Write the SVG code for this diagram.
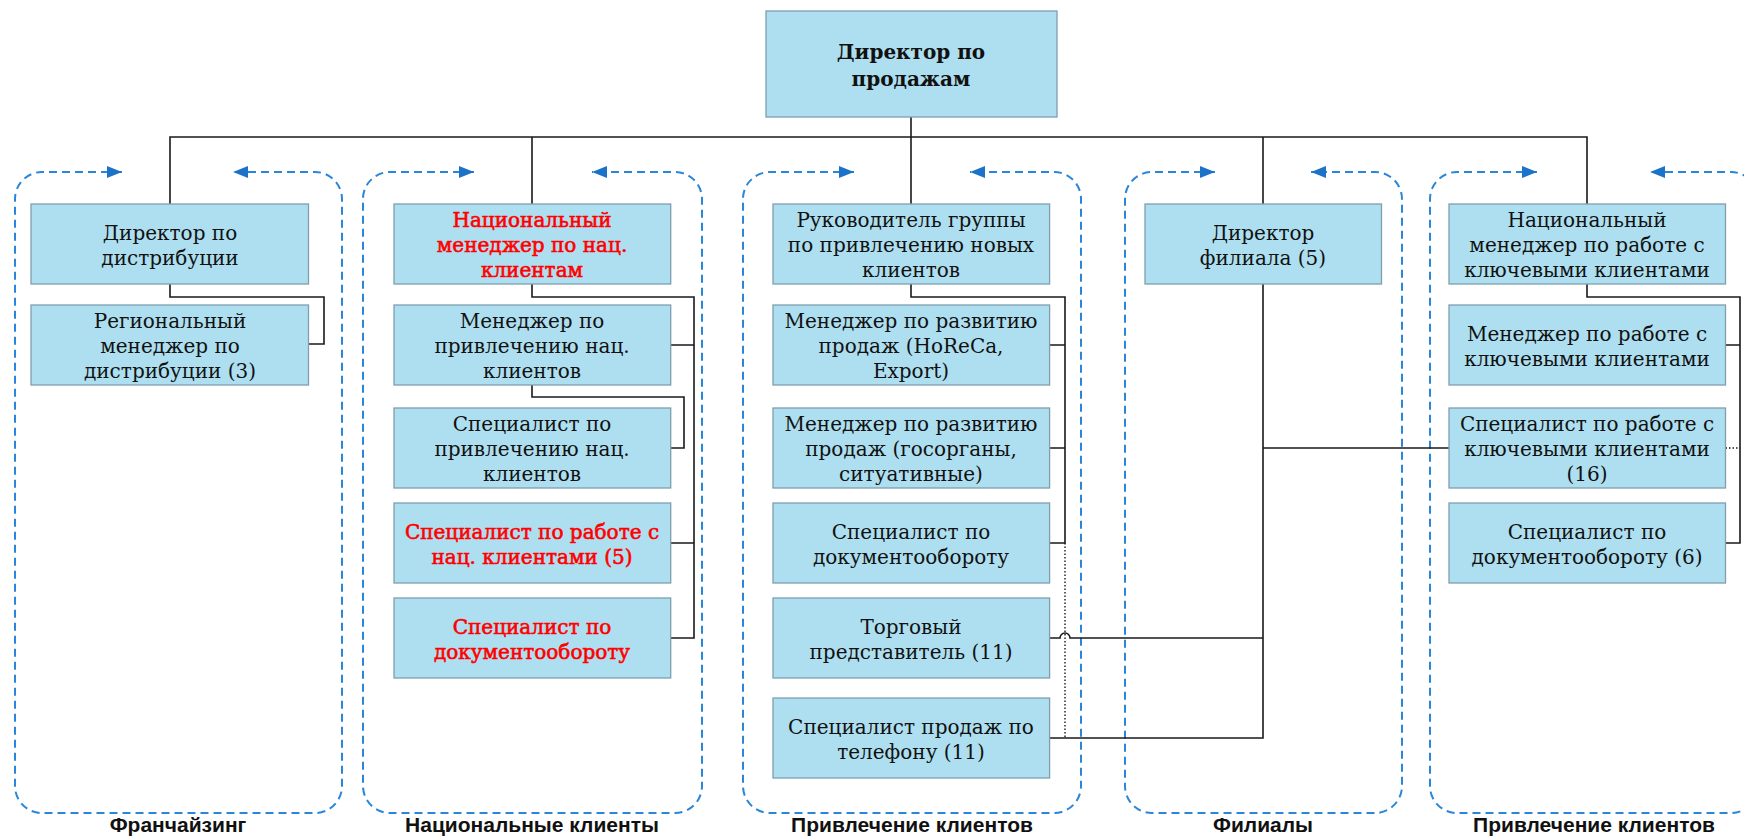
<svg xmlns="http://www.w3.org/2000/svg" width="1744" height="837" viewBox="0 0 1744 837">
<style>
.box{fill:#addff0;stroke:#7f9fae;stroke-width:1.3}
.t{font-family:'DejaVu Serif','Liberation Serif',serif;font-size:20px;text-anchor:middle;fill:#111}
.red{fill:#ff0000;stroke:#ff0000;stroke-width:0.6}
.b{font-weight:bold}
.ln{fill:none;stroke:#1a1a1a;stroke-width:1.6}
.dot{fill:none;stroke:#1a1a1a;stroke-width:1.4;stroke-dasharray:1.5 2}
.grp{fill:none;stroke:#2a86d8;stroke-width:2;stroke-dasharray:8 5;marker-start:url(#ah);marker-end:url(#ah)}
.lbl{font-family:'Liberation Sans',Arial,sans-serif;font-weight:bold;font-size:21px;text-anchor:middle;fill:#111}
</style>
<defs>
<marker id="ah" markerUnits="userSpaceOnUse" markerWidth="16" markerHeight="13" refX="15" refY="6" orient="auto-start-reverse">
<path d="M0,0 L15,6 L0,12 z" fill="#1a73c9"/>
</marker>
</defs>
<rect width="1744" height="837" fill="#ffffff"/>

<g id="groups">
<path class="grp" d="M122,172 H42 A27,27 0 0 0 15,199 V786 A27,27 0 0 0 42,813 H315 A27,27 0 0 0 342,786 V199 A27,27 0 0 0 315,172 H233"/>
<path class="grp" d="M474,172 H390 A27,27 0 0 0 363,199 V786 A27,27 0 0 0 390,813 H675 A27,27 0 0 0 702,786 V199 A27,27 0 0 0 675,172 H592"/>
<path class="grp" d="M854,172 H770 A27,27 0 0 0 743,199 V786 A27,27 0 0 0 770,813 H1054 A27,27 0 0 0 1081,786 V199 A27,27 0 0 0 1054,172 H970"/>
<path class="grp" d="M1215,172 H1152 A27,27 0 0 0 1125,199 V786 A27,27 0 0 0 1152,813 H1375 A27,27 0 0 0 1402,786 V199 A27,27 0 0 0 1375,172 H1311"/>
<path class="grp" d="M1537,172 H1457 A27,27 0 0 0 1430,199 V786 A27,27 0 0 0 1457,813 H1731 A27,27 0 0 0 1758,786 V199 A27,27 0 0 0 1731,172 H1650"/>
<text class="lbl" x="178" y="832">Франчайзинг</text>
<text class="lbl" x="532" y="832">Национальные клиенты</text>
<text class="lbl" x="912" y="832">Привлечение клиентов</text>
<text class="lbl" x="1263" y="832">Филиалы</text>
<text class="lbl" x="1594" y="832">Привлечение клиентов</text>
</g>

<g id="connectors">
<path class="ln" d="M911,117 V204 M170,204 V137 H1587 V204 M532,137 V204 M1263,137 V204"/>
<path class="ln" d="M170,284 V297 H324 V344 H308.5"/>
<path class="ln" d="M532,284 V297 H694 V638 H670.7 M670.7,345 H694 M670.7,543 H694"/>
<path class="ln" d="M532,385 V397 H684 V448 H670.7"/>
<path class="ln" d="M911,284 V297 H1065 V543 H1049.6 M1049.6,345 H1065 M1049.6,448 H1065"/>
<path class="dot" d="M1065,543 V738"/>
<path class="ln" d="M1049.6,638 H1060 A5,5 0 0 1 1070,638 H1263"/>
<path class="ln" d="M1049.6,738 H1263 V284 M1263,448 H1449"/>
<path class="ln" d="M1587,284 V297 H1740 V543 H1725.5 M1725.5,345 H1740"/>
<path class="dot" d="M1725.5,448 H1740"/>
</g>

<g id="n0"><rect class="box" x="766" y="11" width="291" height="106"/>
<text class="t b" x="911"><tspan x="911" y="58.5">Директор по</tspan><tspan x="911" y="85.5">продажам</tspan></text></g>

<g id="n1a"><rect class="box" x="31" y="204" width="277.5" height="80"/>
<text class="t" x="170"><tspan x="170" y="239.5">Директор по</tspan><tspan x="170" y="264.5">дистрибуции</tspan></text></g>
<g id="n1b"><rect class="box" x="31" y="305" width="277.5" height="80"/>
<text class="t" x="170"><tspan x="170" y="328">Региональный</tspan><tspan x="170" y="353">менеджер по</tspan><tspan x="170" y="378">дистрибуции (3)</tspan></text></g>

<g id="n2a"><rect class="box" x="394" y="204" width="276.7" height="80"/>
<text class="t red" x="532"><tspan x="532" y="227">Национальный</tspan><tspan x="532" y="252">менеджер по нац.</tspan><tspan x="532" y="277">клиентам</tspan></text></g>
<g id="n2b"><rect class="box" x="394" y="305" width="276.7" height="80"/>
<text class="t" x="532"><tspan x="532" y="328">Менеджер по</tspan><tspan x="532" y="353">привлечению нац.</tspan><tspan x="532" y="378">клиентов</tspan></text></g>
<g id="n2c"><rect class="box" x="394" y="408" width="276.7" height="80"/>
<text class="t" x="532"><tspan x="532" y="431">Специалист по</tspan><tspan x="532" y="456">привлечению нац.</tspan><tspan x="532" y="481">клиентов</tspan></text></g>
<g id="n2d"><rect class="box" x="394" y="503" width="276.7" height="80"/>
<text class="t red" x="532"><tspan x="532" y="538.5">Специалист по работе с</tspan><tspan x="532" y="563.5">нац. клиентами (5)</tspan></text></g>
<g id="n2e"><rect class="box" x="394" y="598" width="276.7" height="80"/>
<text class="t red" x="532"><tspan x="532" y="633.5">Специалист по</tspan><tspan x="532" y="658.5">документообороту</tspan></text></g>

<g id="n3a"><rect class="box" x="773" y="204" width="276.6" height="80"/>
<text class="t" x="911"><tspan x="911" y="227">Руководитель группы</tspan><tspan x="911" y="252">по привлечению новых</tspan><tspan x="911" y="277">клиентов</tspan></text></g>
<g id="n3b"><rect class="box" x="773" y="305" width="276.6" height="80"/>
<text class="t" x="911"><tspan x="911" y="328">Менеджер по развитию</tspan><tspan x="911" y="353">продаж (HoReCa,</tspan><tspan x="911" y="378">Export)</tspan></text></g>
<g id="n3c"><rect class="box" x="773" y="408" width="276.6" height="80"/>
<text class="t" x="911"><tspan x="911" y="431">Менеджер по развитию</tspan><tspan x="911" y="456">продаж (госорганы,</tspan><tspan x="911" y="481">ситуативные)</tspan></text></g>
<g id="n3d"><rect class="box" x="773" y="503" width="276.6" height="80"/>
<text class="t" x="911"><tspan x="911" y="538.5">Специалист по</tspan><tspan x="911" y="563.5">документообороту</tspan></text></g>
<g id="n3e"><rect class="box" x="773" y="598" width="276.6" height="80"/>
<text class="t" x="911"><tspan x="911" y="633.5">Торговый</tspan><tspan x="911" y="658.5">представитель (11)</tspan></text></g>
<g id="n3f"><rect class="box" x="773" y="698" width="276.6" height="80"/>
<text class="t" x="911"><tspan x="911" y="733.5">Специалист продаж по</tspan><tspan x="911" y="758.5">телефону (11)</tspan></text></g>

<g id="n4a"><rect class="box" x="1145" y="204" width="236.5" height="80"/>
<text class="t" x="1263"><tspan x="1263" y="239.5">Директор</tspan><tspan x="1263" y="264.5">филиала (5)</tspan></text></g>

<g id="n5a"><rect class="box" x="1449" y="204" width="276.5" height="80"/>
<text class="t" x="1587"><tspan x="1587" y="227">Национальный</tspan><tspan x="1587" y="252">менеджер по работе с</tspan><tspan x="1587" y="277">ключевыми клиентами</tspan></text></g>
<g id="n5b"><rect class="box" x="1449" y="305" width="276.5" height="80"/>
<text class="t" x="1587"><tspan x="1587" y="340.5">Менеджер по работе с</tspan><tspan x="1587" y="365.5">ключевыми клиентами</tspan></text></g>
<g id="n5c"><rect class="box" x="1449" y="408" width="276.5" height="80"/>
<text class="t" x="1587"><tspan x="1587" y="431">Специалист по работе с</tspan><tspan x="1587" y="456">ключевыми клиентами</tspan><tspan x="1587" y="481">(16)</tspan></text></g>
<g id="n5d"><rect class="box" x="1449" y="503" width="276.5" height="80"/>
<text class="t" x="1587"><tspan x="1587" y="538.5">Специалист по</tspan><tspan x="1587" y="563.5">документообороту (6)</tspan></text></g>
</svg>
